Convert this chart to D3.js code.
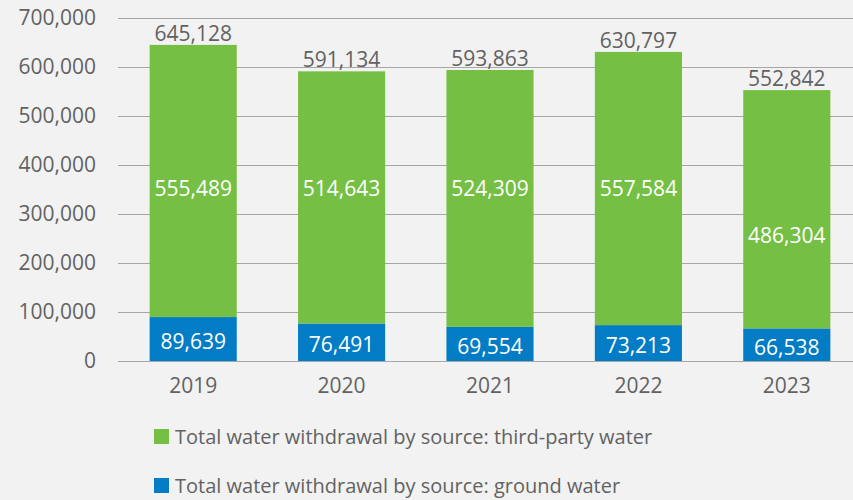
<!DOCTYPE html>
<html>
<head>
<meta charset="utf-8">
<script src="https://cdn.jsdelivr.net/npm/d3@7"></script>
<style>
  html, body { margin: 0; padding: 0; background: #f2f2f2; }
  svg { display: block; font-family: "Open Sans", "Noto Sans", sans-serif; }
</style>
</head>
<body>
<svg></svg>
<script>
const years = ["2019", "2020", "2021", "2022", "2023"];
const groundWater = [89639, 76491, 69554, 73213, 66538];
const thirdPartyWater = [555489, 514643, 524309, 557584, 486304];
const totals = [645128, 591134, 593863, 630797, 552842];
const yTicks = [0, 100000, 200000, 300000, 400000, 500000, 600000, 700000];
const legendLabels = [
  "Total water withdrawal by source: third-party water",
  "Total water withdrawal by source: ground water"
];

const green = "#75bf44";
const blue = "#027cc4";
const textGray = "#626262";

// Sizes
const W = 853, H = 500;

const svg = d3.select("svg")
  .attr("width", W)
  .attr("height", H);

// Scales
const x = d3.scaleBand()
  .domain(years)
  .range([119, 861])
  .paddingInner(0.413)
  .paddingOuter(0.2065);

const y = d3.scaleLinear()
  .domain([0, 700000])
  .range([361, 18]);

// Grid lines + y labels
const yAxis = svg.append("g")
  .attr("transform", "translate(118, 0)")
  .call(d3.axisLeft(y)
    .tickValues(yTicks)
    .tickSize(-(W - 118))
    .tickPadding(22)
    .tickFormat(d3.format(",")))
  .attr("font-family", null)
  .attr("font-size", 21);

yAxis.select(".domain").remove();
yAxis.selectAll(".tick line")
  .attr("stroke", "#a6a6a6")
  .attr("stroke-width", 1);
yAxis.selectAll(".tick text")
  .attr("fill", textGray);

// x labels
const xAxis = svg.append("g")
  .attr("transform", "translate(0, 361)")
  .call(d3.axisBottom(x).tickSize(0).tickPadding(17))
  .attr("font-family", null)
  .attr("font-size", 21);
xAxis.select(".domain").remove();
xAxis.selectAll(".tick text")
  .attr("fill", textGray);

const rows = years.map((yr, i) => ({
  year: yr,
  ground: groundWater[i],
  third: thirdPartyWater[i],
  total: totals[i]
}));

// Bars
svg.selectAll(".ground")
  .data(rows)
  .enter()
  .append("rect")
    .attr("x", d => x(d.year))
    .attr("width", x.bandwidth())
    .attr("y", d => y(d.ground))
    .attr("height", d => y(0) - y(d.ground))
    .attr("fill", blue);

svg.selectAll(".third")
  .data(rows)
  .enter()
  .append("rect")
    .attr("x", d => x(d.year))
    .attr("width", x.bandwidth())
    .attr("y", d => y(d.ground + d.third))
    .attr("height", d => y(d.ground) - y(d.ground + d.third))
    .attr("fill", green);

// Labels inside bars (the third-party ones sit on a shared line, last one lower)
const thirdLabelAt = [353000, 353000, 353000, 353000, 257000];

svg.selectAll(".third-label")
  .data(rows)
  .enter()
  .append("text")
    .attr("x", d => x(d.year) + x.bandwidth() / 2)
    .attr("y", (d, i) => y(thirdLabelAt[i]) + 7.5)
    .attr("text-anchor", "middle")
    .attr("fill", "#ffffff")
    .attr("font-size", 21)
    .text(d => d3.format(",")(d.third));

svg.selectAll(".ground-label")
  .data(rows)
  .enter()
  .append("text")
    .attr("x", d => x(d.year) + x.bandwidth() / 2)
    .attr("y", d => (y(0) + y(d.ground)) / 2 + 10)
    .attr("text-anchor", "middle")
    .attr("fill", "#ffffff")
    .attr("font-size", 21)
    .text(d => d3.format(",")(d.ground));

svg.selectAll(".total-label")
  .data(rows)
  .enter()
  .append("text")
    .attr("x", d => x(d.year) + x.bandwidth() / 2)
    .attr("y", d => y(d.total) - 4)
    .attr("text-anchor", "middle")
    .attr("fill", textGray)
    .attr("font-size", 21)
    .text(d => d3.format(",")(d.total));

// Legend
const legend = svg.selectAll(".legend")
  .data(legendLabels)
  .enter()
  .append("g")
    .attr("transform", (d, i) => `translate(154, ${429 + i * 49})`);

legend.append("rect")
  .attr("width", 15)
  .attr("height", 15)
  .attr("fill", (d, i) => i === 0 ? green : blue);

legend.append("text")
  .attr("x", 21)
  .attr("y", 14.5)
  .attr("fill", textGray)
  .attr("font-size", 20)
  .text(d => d);
</script>
</body>
</html>
